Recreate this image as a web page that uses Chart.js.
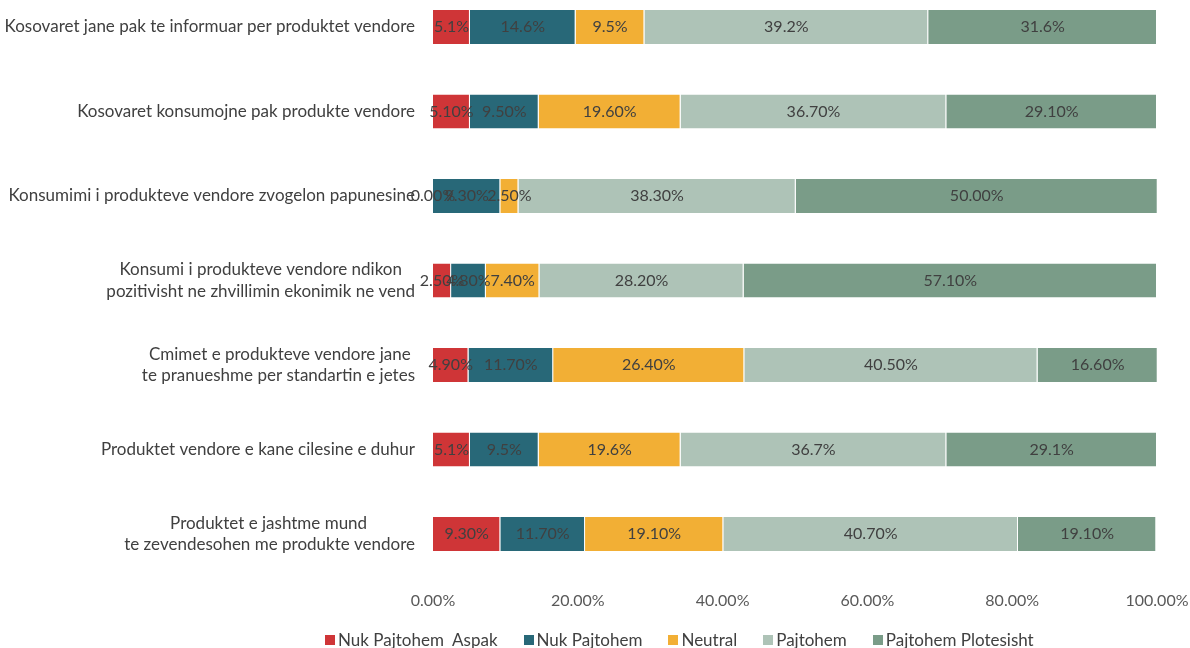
<!DOCTYPE html>
<html>
<head>
<meta charset="utf-8">
<script src="https://cdn.jsdelivr.net/npm/chart.js@4/dist/chart.umd.min.js"></script>
<style>
  body { margin: 0; background: #fff; }
  #wrap { position: relative; width: 1190px; height: 648px; overflow: hidden; }
  #legend { position: absolute; left: 325px; top: 630px; display: flex; font: 17px Lato, sans-serif; color: #404040; line-height: 20px; white-space: pre; }
  #legend span.item { display: flex; align-items: center; margin-right: 26px; }
  #legend i { display: inline-block; width: 10px; height: 10px; margin-right: 3px; }
</style>
</head>
<body>
<div id="wrap">
  <canvas id="chart" width="1190" height="648"></canvas>
  <div id="legend"></div>
</div>
<script>
const statements = [
  'Kosovaret jane pak te informuar per produktet vendore',
  'Kosovaret konsumojne pak produkte vendore',
  'Konsumimi i produkteve vendore zvogelon papunesine',
  ['Konsumi i produkteve vendore ndikon', 'pozitivisht ne zhvillimin ekonimik ne vend'],
  ['Cmimet e produkteve vendore jane', 'te pranueshme per standartin e jetes'],
  'Produktet vendore e kane cilesine e duhur',
  ['Produktet e jashtme mund', 'te zevendesohen me produkte vendore']
];
// decimals shown in each row's labels
const decimals = [1, 2, 2, 2, 2, 1, 2];

const seriesNames = ['Nuk Pajtohem  Aspak', 'Nuk Pajtohem', 'Neutral', 'Pajtohem', 'Pajtohem Plotesisht'];
const seriesColors = ['#CF3537', '#286878', '#F2AF35', '#AEC3B7', '#7A9C88'];

const strongDisagree = [5.1, 5.1, 0.0, 2.5, 4.9, 5.1, 9.3];
const disagree = [14.6, 9.5, 9.3, 4.8, 11.7, 9.5, 11.7];
const neutral = [9.5, 19.6, 2.5, 7.4, 26.4, 19.6, 19.1];
const agree = [39.2, 36.7, 38.3, 28.2, 40.5, 36.7, 40.7];
const strongAgree = [31.6, 29.1, 50.0, 57.1, 16.6, 29.1, 19.1];

const xTicks = [0, 20, 40, 60, 80, 100];

const seriesData = [strongDisagree, disagree, neutral, agree, strongAgree];

const labelFont = '17px Lato';

// wrapped labels: pad the shorter line so the lines sit centred on each other
const measure = document.createElement('canvas').getContext('2d');
measure.font = labelFont;
function centerLines(label) {
  if (!Array.isArray(label)) return label;
  const widths = label.map(l => measure.measureText(l).width);
  const widest = Math.max(...widths);
  const space = measure.measureText(' ').width;
  return label.map((l, i) => l + ' '.repeat(Math.round((widest - widths[i]) / 2 / space)));
}

// percentage text in the middle of every segment
const segmentLabels = {
  id: 'segmentLabels',
  afterDatasetsDraw(chart) {
    const ctx = chart.ctx;
    ctx.save();
    ctx.font = '16px Lato, sans-serif';
    ctx.fillStyle = '#404040';
    ctx.textAlign = 'center';
    ctx.textBaseline = 'middle';
    chart.data.datasets.forEach((ds, i) => {
      chart.getDatasetMeta(i).data.forEach((bar, j) => {
        const p = bar.getCenterPoint();
        ctx.fillText(ds.data[j].toFixed(decimals[j]) + '%', p.x, p.y);
      });
    });
    ctx.restore();
  }
};

new Chart(document.getElementById('chart'), {
  type: 'bar',
  data: {
    labels: statements.map(centerLines),
    datasets: seriesNames.map((name, i) => ({
      label: name,
      data: seriesData[i],
      backgroundColor: seriesColors[i],
      borderColor: 'rgba(255,255,255,0.7)',
      borderWidth: { right: 1 },
      borderSkipped: false,
      barPercentage: 0.4,
      categoryPercentage: 1,
      clip: false
    }))
  },
  options: {
    indexAxis: 'y',
    responsive: false,
    animation: false,
    layout: { padding: { top: 27, right: 33, bottom: 40, left: 0 } },
    plugins: { legend: { display: false }, tooltip: { enabled: false } },
    scales: {
      x: {
        stacked: true,
        min: 0,
        max: 100,
        afterBuildTicks: scale => { scale.ticks = xTicks.map(v => ({ value: v })); },
        // fixed axis band, no extra room for the edge labels
        afterFit: scale => {
          scale.height = 74;
          scale.paddingLeft = 0;
          scale.paddingRight = 0;
        },
        grid: { display: false, drawTicks: false },
        border: { display: false },
        ticks: {
          padding: 57,
          maxRotation: 0,
          color: '#595959',
          font: { family: 'Lato', size: 16 },
          callback: v => v.toFixed(2) + '%'
        }
      },
      y: {
        stacked: true,
        offset: false,
        grid: { display: false, drawTicks: false },
        border: { display: false },
        afterFit: scale => {
          scale.width = 433;
          scale.paddingTop = 0;
          scale.paddingBottom = 0;
        },
        ticks: {
          padding: 18,
          color: '#404040',
          font: { family: 'Lato', size: 17, lineHeight: 1.25 }
        }
      }
    }
  },
  plugins: [segmentLabels]
});

// legend row under the axis
const legend = document.getElementById('legend');
seriesNames.forEach((name, i) => {
  const item = document.createElement('span');
  item.className = 'item';
  const box = document.createElement('i');
  box.style.background = seriesColors[i];
  item.appendChild(box);
  item.appendChild(document.createTextNode(name));
  legend.appendChild(item);
});
</script>
</body>
</html>
